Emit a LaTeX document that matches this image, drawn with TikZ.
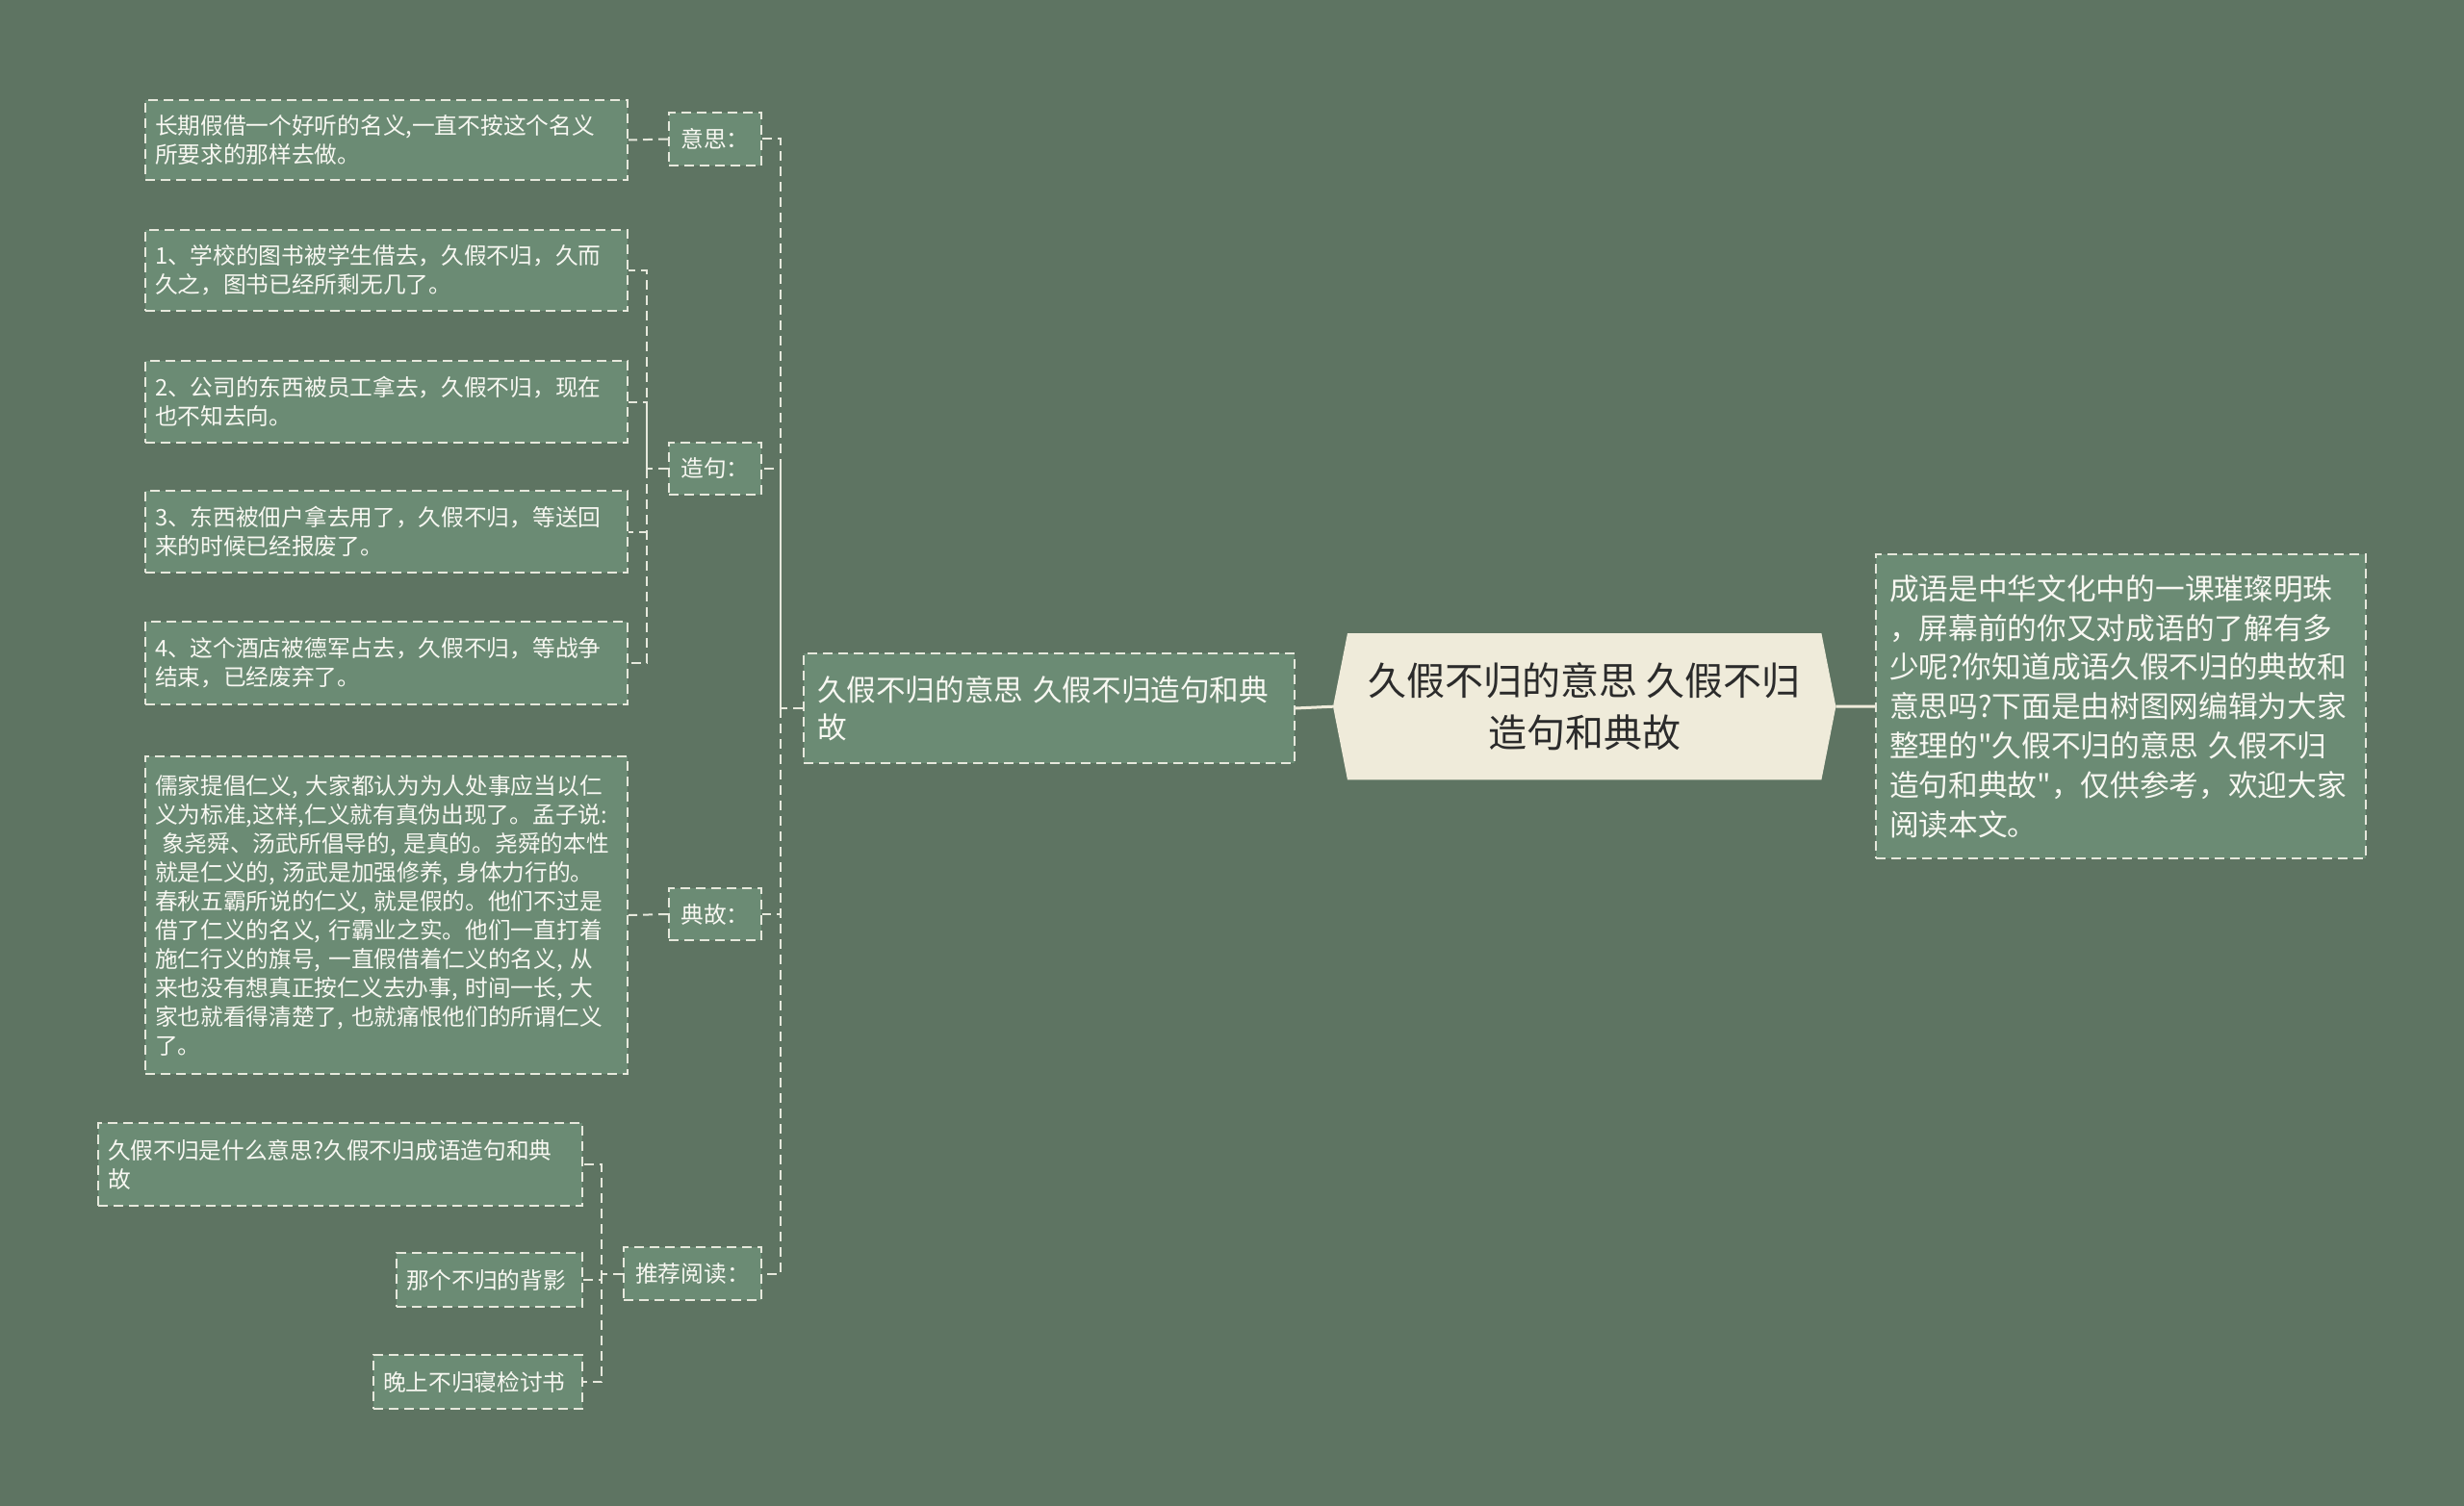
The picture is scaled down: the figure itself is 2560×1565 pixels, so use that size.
\documentclass[tikz,border=0pt]{standalone}
\usepackage{fontspec}
\setmainfont{Noto Sans CJK SC}[Ligatures=TeXOff]
\usetikzlibrary{backgrounds}
\definecolor{bgc}{HTML}{5E7462}
\definecolor{boxc}{HTML}{6B8B74}
\definecolor{linec}{HTML}{E6E8DC}
\definecolor{txtc}{HTML}{F8F8F2}
\definecolor{creamc}{HTML}{EFEBDA}
\definecolor{darkc}{HTML}{2B2B2B}
\tikzset{
  dbox/.style={draw=linec, dash pattern=on 10pt off 6pt, line width=2pt, fill=boxc, text=txtc, anchor=north west},
  leafbox/.style={dbox, inner xsep=10pt, inner ysep=0pt, align=left, font=\fontsize{23.7}{30}\selectfont},
  labbox/.style={dbox, inner sep=0pt, align=center, font=\fontsize{23.7}{30}\selectfont},
  conn/.style={draw=linec, dash pattern=on 10pt off 6pt, line width=2pt},
  solidconn/.style={draw=creamc, line width=3pt}
}
\begin{document}
\begin{tikzpicture}[x=1pt,y=-1pt]
\begin{pgfonlayer}{background}
\fill[bgc] (0,0) rectangle (2560,1565);
\end{pgfonlayer}
\useasboundingbox (0,0) rectangle (2560,1565);

% leaves
\node[leafbox, text width=481pt, minimum height=83pt] (m1) at (150,103) {长期假借一个好听的名义,一直不按这个名义\\所要求的那样去做。};
\node[leafbox, text width=481pt, minimum height=84pt] (s1) at (150,238) {1、学校的图书被学生借去，久假不归，久而\\久之，图书已经所剩无几了。};
\node[leafbox, text width=481pt, minimum height=85pt] (s2) at (150,374) {2、公司的东西被员工拿去，久假不归，现在\\也不知去向。};
\node[leafbox, text width=481pt, minimum height=85pt] (s3) at (150,509) {3、东西被佃户拿去用了，久假不归，等送回\\来的时候已经报废了。};
\node[leafbox, text width=481pt, minimum height=86pt] (s4) at (150,645) {4、这个酒店被德军占去，久假不归，等战争\\结束，已经废弃了。};
\node[leafbox, text width=481pt, minimum height=330pt] (d1) at (150,785) {儒家提倡仁义, 大家都认为为人处事应当以仁\\义为标准,这样,仁义就有真伪出现了。孟子说:\\\hspace*{0.3em}象尧舜、汤武所倡导的, 是真的。尧舜的本性\\就是仁义的, 汤武是加强修养, 身体力行的。\\春秋五霸所说的仁义, 就是假的。他们不过是\\借了仁义的名义, 行霸业之实。他们一直打着\\施仁行义的旗号, 一直假借着仁义的名义, 从\\来也没有想真正按仁义去办事, 时间一长, 大\\家也就看得清楚了, 也就痛恨他们的所谓仁义\\了。};
\node[leafbox, text width=483pt, minimum height=86pt] (r1) at (101,1166) {久假不归是什么意思?久假不归成语造句和典\\故};
\node[leafbox, text width=173pt, minimum height=56pt] (r2) at (411,1301) {那个不归的背影};
\node[leafbox, text width=197pt, minimum height=56pt] (r3) at (387,1407) {晚上不归寝检讨书};

% labels
\node[labbox, minimum width=96pt, minimum height=55pt] (l1) at (694,116) {意思：};
\node[labbox, minimum width=96pt, minimum height=54pt] (l2) at (694,459) {造句：};
\node[labbox, minimum width=96pt, minimum height=54pt] (l3) at (694,922) {典故：};
\node[labbox, minimum width=143pt, minimum height=55pt] (l4) at (647,1295) {推荐阅读：};

% main branch
\node[dbox, inner xsep=14pt, inner ysep=0pt, text width=482pt, minimum height=114pt, align=left, font=\fontsize{30.6}{39}\selectfont] (main) at (834,678) {久假不归的意思 久假不归造句和典\\故};

% central
\node[anchor=north west, minimum width=522pt, minimum height=152pt, inner sep=0pt, align=center, text=darkc, font=\fontsize{40}{54}\selectfont] (ctr) at (1385,658) {久假不归的意思 久假不归\\造句和典故};
\begin{pgfonlayer}{background}
\fill[creamc] ([xshift=15pt]ctr.north west) -- ([xshift=-15pt]ctr.north east) -- (ctr.east) -- ([xshift=-15pt]ctr.south east) -- ([xshift=15pt]ctr.south west) -- (ctr.west) -- cycle;
\end{pgfonlayer}

% right intro
\node[dbox, inner xsep=14pt, inner ysep=0pt, text width=481pt, minimum height=316pt, align=left, font=\fontsize{30.7}{40.8}\selectfont] (intro) at (1948,575) {成语是中华文化中的一课璀璨明珠\\，屏幕前的你又对成语的了解有多\\少呢?你知道成语久假不归的典故和\\意思吗?下面是由树图网编辑为大家\\整理的"久假不归的意思 久假不归\\造句和典故"，仅供参考，欢迎大家\\阅读本文。};

% connectors
\draw[solidconn] (ctr.west) -- (main.east);
\draw[solidconn] (ctr.east) -- (intro.west);

\path (main.west) ++(-23,0) coordinate (b0);
\draw[conn] (main.west) -- (b0) |- (l1.east);
\draw[conn] (b0) |- (l2.east);
\draw[conn] (b0) |- (l3.east);
\draw[conn] (b0) |- (l4.east);

\draw[conn] (l1.west) -- (m1.east);
\path (l2.west) ++(-22,0) coordinate (b2);
\draw[conn] (l2.west) -- (b2) |- (s1.east);
\draw[conn] (b2) |- (s2.east);
\draw[conn] (b2) |- (s3.east);
\draw[conn] (b2) |- (s4.east);
\draw[conn] (l3.west) -- (d1.east);
\path (l4.west) ++(-22,0) coordinate (b4);
\draw[conn] (l4.west) -- (b4) |- (r1.east);
\draw[conn] (b4) |- (r2.east);
\draw[conn] (b4) |- (r3.east);
\end{tikzpicture}
\end{document}
